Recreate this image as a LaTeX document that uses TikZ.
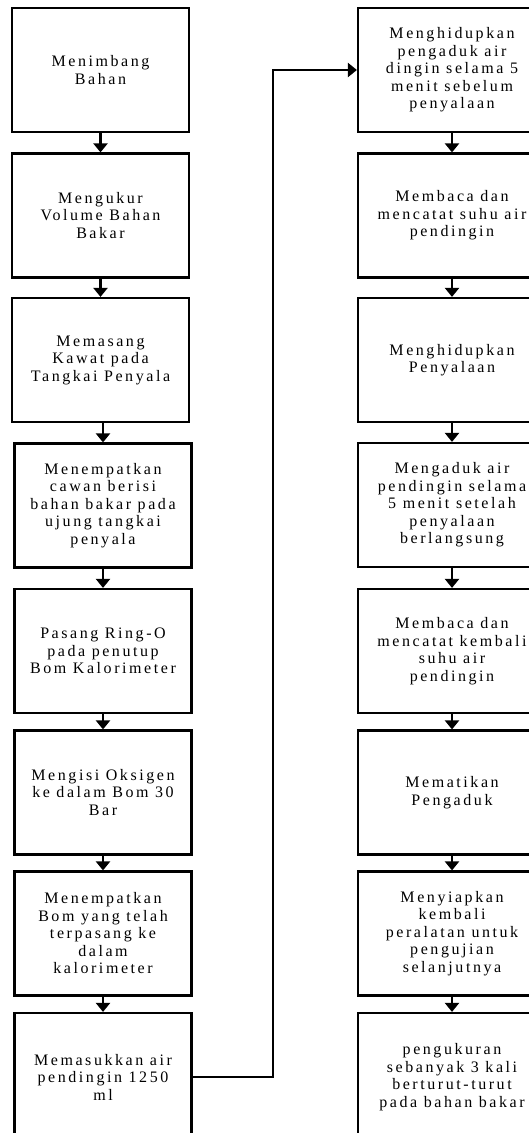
\documentclass[tikz,border=0pt]{standalone}
\usepackage{fontspec}
\setmainfont{Liberation Serif}[LetterSpace=16]
\usetikzlibrary{arrows.meta}
\begin{document}
\begin{tikzpicture}[x=1pt,y=-1pt,
  box/.style={draw, line width=2.2pt, rectangle, inner sep=0pt, align=center,
    minimum height=124pt, font=\fontsize{16}{17.5}\selectfont},
  lbox/.style={box, minimum width=177pt},
  rbox/.style={box, minimum width=188pt},
  arr/.style={line width=2.2pt, -{Triangle[width=14pt,length=9pt]}}]
\useasboundingbox (0,0) rectangle (529,1133);
\clip (0,0) rectangle (529,1133);
% left column
\node[lbox] (L1) at (100.5,70) {Menimbang\\Bahan};
\node[lbox] (L2) at (100.5,215.5) {Mengukur\\Volume Bahan\\Bakar};
\node[lbox] (L3) at (100.5,360) {Memasang\\Kawat pada\\Tangkai Penyala};
\node[lbox] (L4) at (103,505.5) {Menempatkan\\cawan berisi\\bahan bakar pada\\ujung tangkai\\penyala};
\node[lbox] (L5) at (103,651) {Pasang Ring-O\\pada penutup\\Bom Kalorimeter};
\node[lbox] (L6) at (103,792.5) {Mengisi Oksigen\\ke dalam Bom 30\\Bar};
\node[lbox] (L7) at (103,933.5) {Menempatkan\\Bom yang telah\\terpasang ke\\dalam\\kalorimeter};
\node[lbox, minimum height=128pt] (L8) at (103,1077) {Memasukkan air\\pendingin 1250\\ml};
% right column
\node[rbox] (R1) at (452,70) {Menghidupkan\\pengaduk air\\dingin selama 5\\menit sebelum\\penyalaan};
\node[rbox] (R2) at (452,215.5) {Membaca dan\\mencatat suhu air\\pendingin};
\node[rbox] (R3) at (452,360) {Menghidupkan\\Penyalaan};
\node[rbox] (R4) at (452,505) {Mengaduk air\\pendingin selama\\5 menit setelah\\penyalaan\\berlangsung};
\node[rbox] (R5) at (452,651) {Membaca dan\\mencatat kembali\\suhu air\\pendingin};
\node[rbox] (R6) at (452,792.5) {Mematikan\\Pengaduk};
\node[rbox] (R7) at (452,933.5) {Menyiapkan\\kembali\\peralatan untuk\\pengujian\\selanjutnya};
\node[rbox, minimum height=128pt] (R8) at (452,1077) {pengukuran\\sebanyak 3 kali\\berturut-turut\\pada bahan bakar};
% connectors
\foreach \a/\b in {L1/L2,L2/L3,L3/L4,L4/L5,L5/L6,L6/L7,L7/L8,R1/R2,R2/R3,R3/R4,R4/R5,R5/R6,R6/R7,R7/R8}
  \draw[arr] (\b.north |- \a.south) -- (\b.north);
\coordinate (turn) at (273,1077);
\draw[arr] (L8.east) -- (turn) |- (R1.west);
\end{tikzpicture}
\end{document}
